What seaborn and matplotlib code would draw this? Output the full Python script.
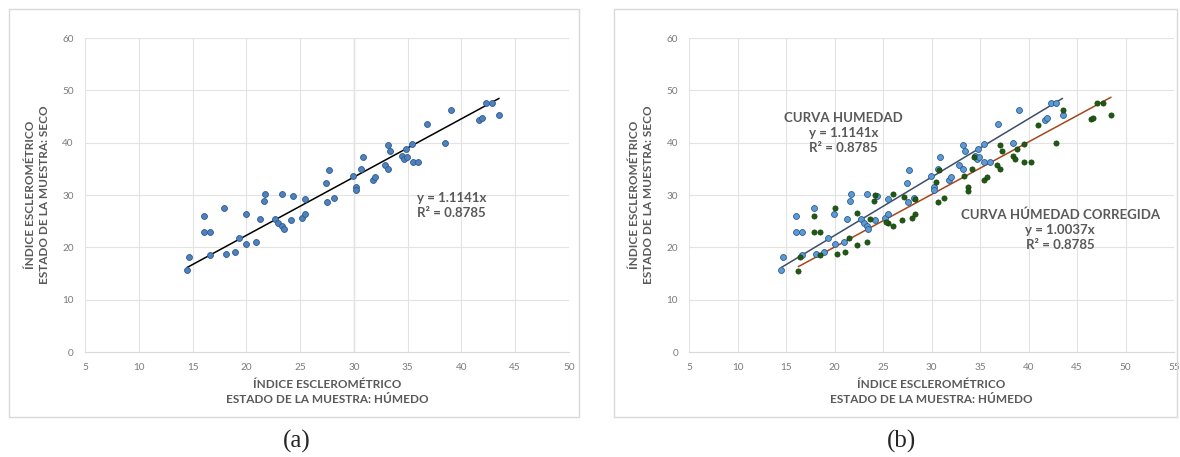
import matplotlib
matplotlib.use("Agg")
import matplotlib.pyplot as plt
import seaborn as sns
import pandas as pd
from matplotlib.patches import Rectangle

# Rebound index, wet sample (x) vs dry sample (y)
humedo_x = [14.5, 14.67, 16.03, 16.03, 16.65, 16.65, 17.89, 18.1, 18.9, 19.28,
            19.93, 19.99, 20.92, 21.24, 21.6, 21.7, 23.3, 22.69, 22.97, 23.28,
            23.47, 24.33, 25.45, 24.14, 25.14, 25.45, 27.52, 28.14, 27.43, 27.68,
            29.94, 30.2, 30.2, 30.7, 30.84, 31.74, 32.0, 32.85, 33.19, 33.19,
            33.4, 34.5, 34.68, 34.9, 34.83, 35.42, 35.45, 36.0, 36.8, 38.43,
            39.04, 41.65, 41.87, 42.3, 42.85, 43.5]
seco_y = [15.6, 18.1, 26.05, 22.9, 23.0, 18.5, 27.5, 18.8, 19.2, 21.7,
          26.4, 20.6, 21.0, 25.4, 28.8, 30.1, 30.15, 25.4, 24.7, 24.1,
          23.5, 29.8, 29.25, 25.2, 25.6, 26.3, 28.7, 29.45, 32.3, 34.75,
          33.6, 31.6, 30.9, 34.9, 37.2, 32.9, 33.5, 35.7, 34.9, 39.5,
          38.4, 37.4, 36.9, 37.3, 38.8, 39.8, 36.3, 36.3, 43.5, 40.0,
          46.3, 44.4, 44.8, 47.6, 47.6, 45.2]

# corrected wet index (green points in panel b)
corr_x = [16.25, 16.46, 17.87, 18.49, 18.49, 20.2, 21.1, 21.5, 22.27, 23.3,
          25.5, 17.87, 20.0, 22.27, 24.2, 24.06, 23.65, 26.0, 27.1, 28.3,
          25.3, 26.05, 26.9, 27.98, 28.3, 30.7, 31.3, 30.5, 30.8, 33.35,
          33.7, 33.7, 34.2, 34.4, 35.4, 35.7, 36.7, 37.0, 37.0, 37.3,
          38.4, 38.6, 38.8, 39.5, 39.5, 40.2, 41.0, 42.8, 43.5, 46.4,
          46.6, 47.1, 47.7, 48.5]
corr_y = [15.5, 18.2, 23.0, 23.0, 18.5, 18.7, 19.1, 21.7, 20.5, 21.0,
          24.7, 26.0, 27.6, 26.5, 30.0, 28.9, 25.4, 30.2, 29.7, 29.25,
          24.9, 24.0, 25.2, 25.6, 26.3, 28.7, 29.45, 32.4, 34.8, 33.7,
          31.6, 30.85, 34.9, 37.2, 32.9, 33.5, 35.7, 34.9, 39.5, 38.4,
          37.4, 36.9, 38.7, 39.8, 36.3, 36.3, 43.4, 39.9, 46.2, 44.5,
          44.8, 47.6, 47.6, 45.2]

slope_hum = 1.1141
slope_corr = 1.0037
r2 = 0.8785

df_a = pd.DataFrame({"x": humedo_x, "y": seco_y})
df_c = pd.DataFrame({"x": corr_x, "y": corr_y})

sns.set_style("white")
plt.rcParams['font.family'] = ['Lato', 'DejaVu Sans']

GRAY = "#595959"
TICK = "#7a7a7a"
GRID = "#e3e3e3"

fig = plt.figure(figsize=(11.8, 4.57), dpi=100)
W, H = 1180, 457

# light frames around each panel
for x0, x1 in [(9, 579), (614, 1177)]:
    fig.patches.append(Rectangle((x0 / W, 1 - 417 / H), (x1 - x0) / W, (417 - 9) / H,
                                 transform=fig.transFigure, fill=False,
                                 edgecolor="#d9d9d9", linewidth=1))

ax_a = fig.add_axes([85 / W, 1 - 352 / H, 484 / W, 314 / H])
ax_b = fig.add_axes([689.3 / W, 1 - 352 / H, 484.7 / W, 314 / H])


def style_axes(ax, xmax):
    ax.set_xlim(5, xmax)
    ax.set_ylim(0, 60)
    ax.set_xticks(range(5, xmax + 1, 5))
    ax.set_yticks(range(0, 61, 10))
    ax.grid(True, color=GRID, linewidth=0.8)
    ax.set_axisbelow(True)
    for s in ["top", "right", "left"]:
        ax.spines[s].set_visible(False)
    ax.spines["bottom"].set_color("#d9d9d9")
    ax.tick_params(axis="both", length=0, labelsize=7.2, labelcolor=TICK, pad=8)
    ax.set_xlabel("ÍNDICE ESCLEROMÉTRICO\nESTADO DE LA MUESTRA: HÚMEDO",
                  fontsize=8.5, fontweight="bold", color=GRAY, labelpad=5,
                  linespacing=1.45)
    ax.set_ylabel("ÍNDICE ESCLEROMÉTRICO\nESTADO DE LA MUESTRA: SECO",
                  fontsize=8.5, fontweight="bold", color=GRAY, labelpad=9,
                  linespacing=1.3)


# ---- panel (a)
style_axes(ax_a, 50)
ax_a.axvline(30, color="#cfcfcf", linewidth=0.9, zorder=0)
xa = [min(humedo_x), max(humedo_x)]
sns.lineplot(x=xa, y=[v * slope_hum for v in xa], ax=ax_a, color="black", linewidth=1.1)
sns.scatterplot(data=df_a, x="x", y="y", ax=ax_a, s=18, color="#4f81bd",
                edgecolor="#2f5a8c", linewidth=0.6, zorder=3)
ax_a.text(35.9, 27.9, f"y = {slope_hum}x\nR² = {r2}", fontsize=9.5,
          fontweight="bold", color=GRAY, ha="left", va="center", linespacing=1.3)

# ---- panel (b)
style_axes(ax_b, 55)
sns.lineplot(x=xa, y=[v * slope_hum for v in xa], ax=ax_b, color="#3e4d6c", linewidth=1.1)
xc = [min(corr_x), max(corr_x)]
sns.lineplot(x=xc, y=[v * slope_corr for v in xc], ax=ax_b, color="#a5461c", linewidth=1.1)
sns.scatterplot(data=df_a, x="x", y="y", ax=ax_b, s=18, color="#5b9bd5",
                edgecolor="#2f5a8c", linewidth=0.6, zorder=3)
sns.scatterplot(data=df_c, x="x", y="y", ax=ax_b, s=14, color="#1f5a12",
                edgecolor="#163d0c", linewidth=0.5, zorder=3)
ax_b.text(20.93, 41.8, f"CURVA HUMEDAD\ny = {slope_hum}x\nR² = {r2}", fontsize=9.5,
          fontweight="bold", color=GRAY, ha="center", va="center", linespacing=1.3)
ax_b.text(43.26, 23.3, f"CURVA HÚMEDAD CORREGIDA\ny = {slope_corr}x\nR² = {r2}",
          fontsize=9.5, fontweight="bold", color=GRAY, ha="center", va="center",
          linespacing=1.3)

fig.text(297 / W, 1 - 441 / H, "(a)", fontsize=18, family="Liberation Serif",
         ha="center", va="center")
fig.text(901 / W, 1 - 441 / H, "(b)", fontsize=18, family="Liberation Serif",
         ha="center", va="center")

fig.savefig("out.png", dpi=100)
